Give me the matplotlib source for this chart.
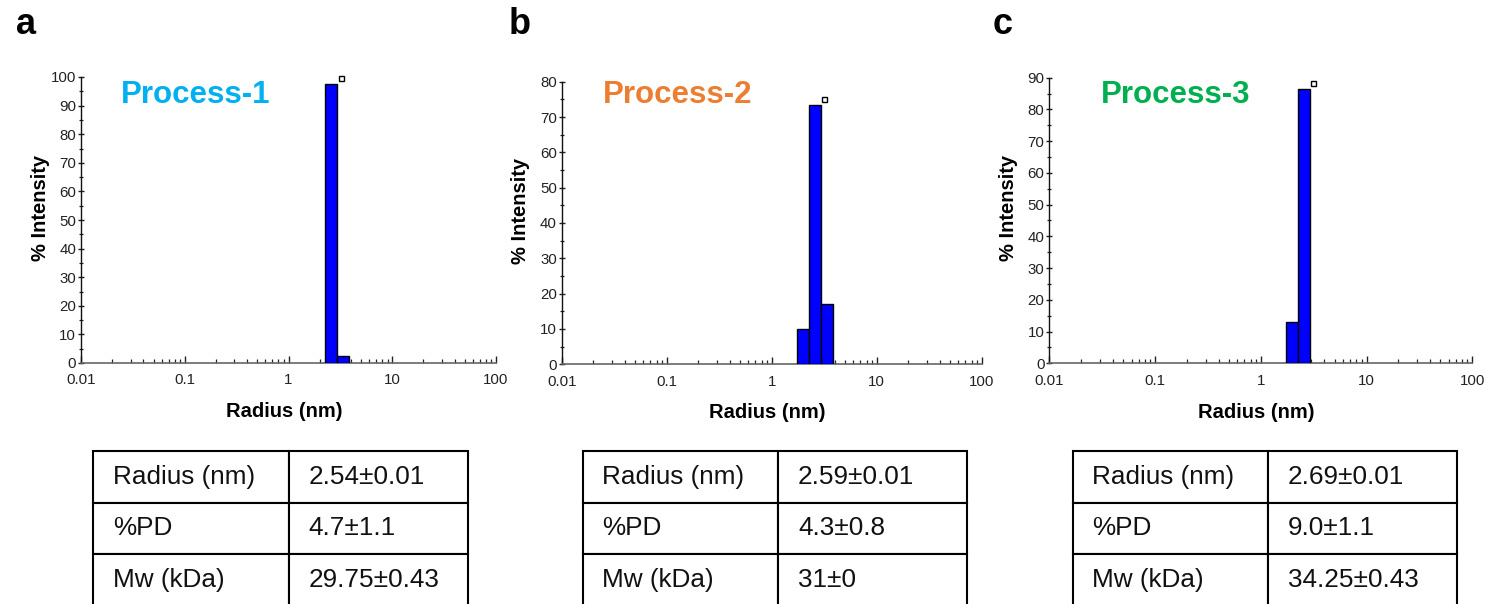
import matplotlib
matplotlib.use("Agg")
import matplotlib.pyplot as plt
from matplotlib.ticker import FixedLocator, FixedFormatter, LogLocator, MultipleLocator, NullFormatter

plt.rcParams['font.family'] = ['Liberation Sans', 'DejaVu Sans']

# ---------------- data ----------------
panel_letters = ['a', 'b', 'c']
process_names = ['Process-1', 'Process-2', 'Process-3']
process_colors = ['#00B0F0', '#ED7D31', '#00B050']

bin_edges = [1.74, 2.27, 2.95, 3.86]          # radius bin edges (nm)
intensity_p1 = [0.0, 97.5, 2.5]
intensity_p2 = [10.0, 73.5, 17.0]
intensity_p3 = [13.0, 86.5, 0.0]
intensities = [intensity_p1, intensity_p2, intensity_p3]

marker_x = [3.18, 3.15, 3.14]
marker_y = [99.5, 75.0, 88.4]

y_max = [100, 80, 90]
x_ticks = [0.01, 0.1, 1, 10, 100]
x_tick_labels = ['0.01', '0.1', '1', '10', '100']

table_row_labels = ['Radius (nm)', '%PD', 'Mw (kDa)']
table_p1 = ['2.54±0.01', '4.7±1.1', '29.75±0.43']
table_p2 = ['2.59±0.01', '4.3±0.8', '31±0']
table_p3 = ['2.69±0.01', '9.0±1.1', '34.25±0.43']
table_values = [table_p1, table_p2, table_p3]

# ---------------- layout (pixels) ----------------
W, H = 1488, 604
fig = plt.figure(figsize=(W / 100, H / 100), dpi=100)

def fig_rect(l, t, r, b):
    return [l / W, 1 - b / H, (r - l) / W, (b - t) / H]

axes_px = [(81, 77, 496, 363), (561.7, 81.7, 981.7, 364.3), (1049.3, 77.7, 1472.3, 363.3)]
letter_px = [(16, 34.3), (509, 34.3), (993, 34.3)]
title_px = [(121, 102.7), (603.3, 102.7), (1101, 102.7)]
table_px = [(93.3, 451, 467.7, 605.5), (582.7, 451, 966.7, 605.5), (1072.7, 451, 1456.7, 605.5)]
col1_w = 195.7

for i in range(3):
    l, t, r, b = axes_px[i]
    ax = fig.add_axes(fig_rect(l, t, r, b))
    ax.set_xscale('log')
    ax.set_xlim(0.01, 100)
    ax.set_ylim(0, y_max[i])

    for j, h in enumerate(intensities[i]):
        if h <= 0:
            continue
        ax.bar(bin_edges[j], h, width=bin_edges[j + 1] - bin_edges[j], align='edge',
               color='#0000FF', edgecolor='black', linewidth=1.0, zorder=3)
    ax.plot([marker_x[i]], [marker_y[i]], marker='s', ms=3.6, mfc='white', mec='black',
            mew=1.0, ls='none', clip_on=False, zorder=4)

    for s in ['top', 'right']:
        ax.spines[s].set_visible(False)
    ax.spines['left'].set_color('#111111')
    ax.spines['bottom'].set_color('#666666')
    ax.spines['left'].set_linewidth(1.0)
    ax.spines['bottom'].set_linewidth(1.2)

    ax.xaxis.set_major_locator(FixedLocator(x_ticks))
    ax.xaxis.set_major_formatter(FixedFormatter(x_tick_labels))
    ax.xaxis.set_minor_locator(LogLocator(base=10, subs=range(2, 10)))
    ax.xaxis.set_minor_formatter(NullFormatter())
    ax.yaxis.set_major_locator(MultipleLocator(10))
    ax.yaxis.set_minor_locator(MultipleLocator(5))

    ax.tick_params(axis='x', which='major', direction='in', length=5, width=1.0,
                   pad=7.5, labelsize=10.8, labelcolor='#222222', color='#222222')
    ax.tick_params(axis='x', which='minor', direction='in', length=3, width=0.9, color='#222222')
    ax.tick_params(axis='y', which='major', direction='inout', length=5, width=1.0,
                   pad=1, labelsize=10.8, labelcolor='#222222', color='#222222')
    ax.tick_params(axis='y', which='minor', direction='inout', length=3, width=0.9, color='#222222')

    ax.set_xlabel('Radius (nm)', fontsize=14.5, fontweight='bold', va='baseline')
    ax.xaxis.set_label_coords(0.49, -0.19)
    ax.set_ylabel('% Intensity', fontsize=14.5, fontweight='bold', va='center')
    ax.yaxis.set_label_coords(-0.097, 0.543)

    # panel letter and title
    lx, ly = letter_px[i]
    fig.text(lx / W, 1 - ly / H, panel_letters[i], fontsize=26, fontweight='bold',
             ha='left', va='baseline', color='black')
    tx, ty = title_px[i]
    fig.text(tx / W, 1 - ty / H, process_names[i], fontsize=22.5, fontweight='bold',
             ha='left', va='baseline', color=process_colors[i])

    # table
    tl, tt, tr, tb = table_px[i]
    tax = fig.add_axes(fig_rect(tl, tt, tr, tb))
    tax.axis('off')
    tw = tr - tl
    cell_text = [[table_row_labels[k], table_values[i][k]] for k in range(3)]
    tbl = tax.table(cellText=cell_text, cellLoc='left', bbox=[0, 0, 1, 1],
                    colWidths=[col1_w / tw, 1 - col1_w / tw])
    tbl.auto_set_font_size(False)
    for (rr, cc), cell in tbl.get_celld().items():
        cell.set_linewidth(1.5)
        cell.set_edgecolor('black')
        cell.get_text().set_fontsize(18.8)
        cell.get_text().set_color('#111111')
        w_px = col1_w if cc == 0 else tw - col1_w
        cell.PAD = 19.5 / w_px

fig.savefig('out.png', dpi=100)
